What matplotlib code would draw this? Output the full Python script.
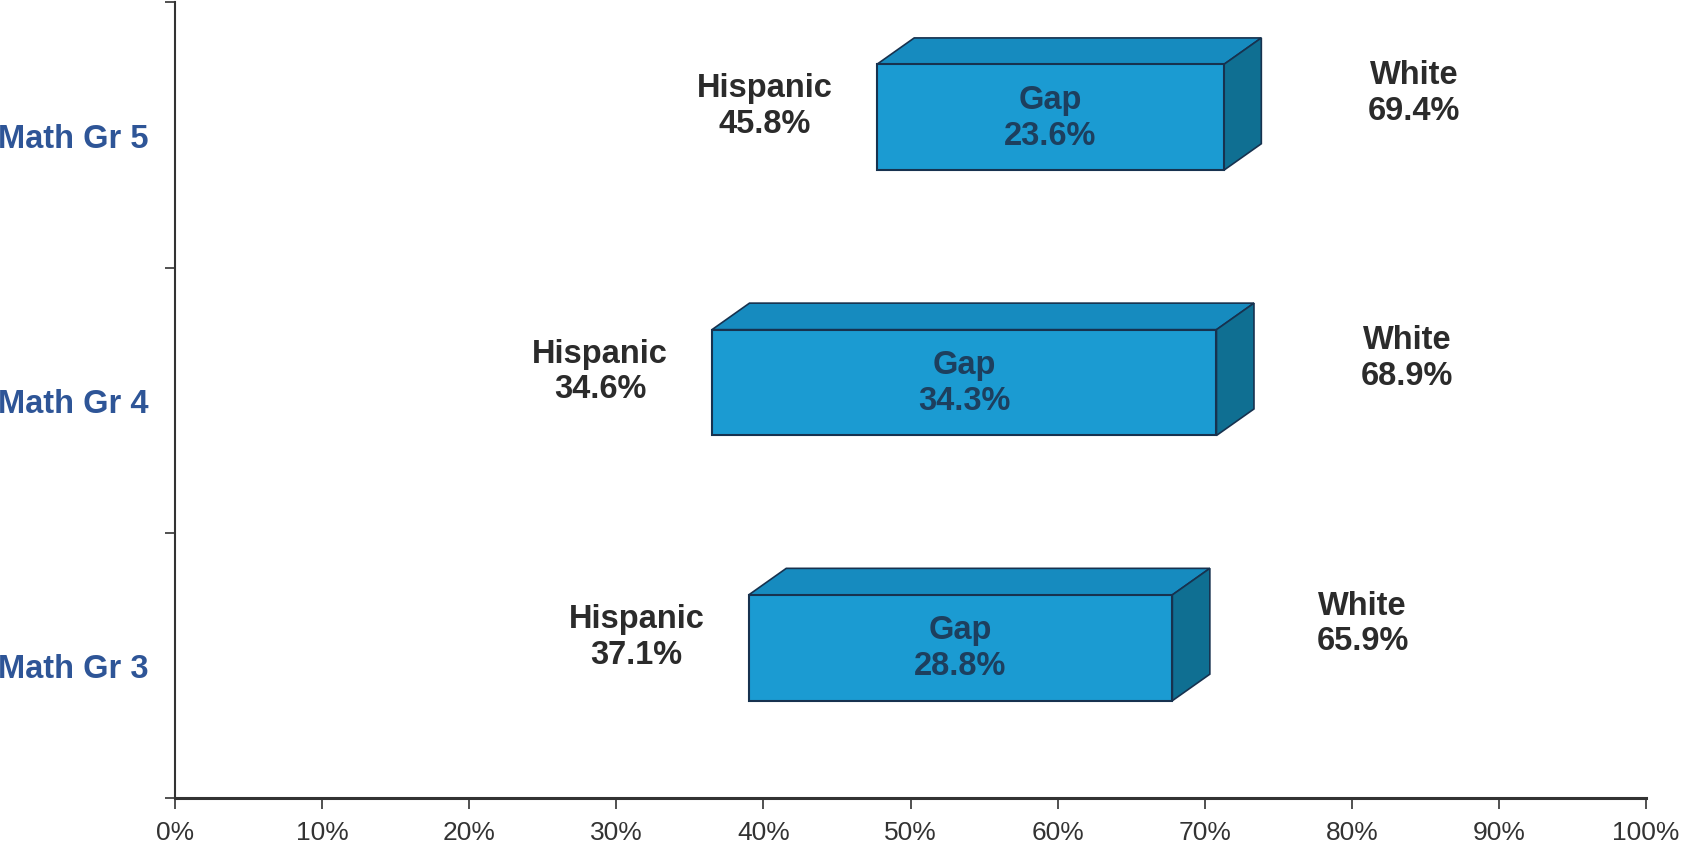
import matplotlib
matplotlib.use("Agg")
import matplotlib.pyplot as plt
from matplotlib.patches import Polygon
from matplotlib.ticker import FixedLocator, PercentFormatter

categories = ["Math Gr 3", "Math Gr 4", "Math Gr 5"]
hispanic = [37.1, 34.6, 45.8]
white = [65.9, 68.9, 69.4]
gap = [28.8, 34.3, 23.6]

FRONT = "#1b9bd2"
TOP = "#168bbf"
SIDE = "#0f6f92"
EDGE = "#17324f"
LABEL = "#2b2b2b"
CAT_BLUE = "#2e5597"

plt.rcParams["font.family"] = ["Liberation Sans", "DejaVu Sans"]

fig = plt.figure(figsize=(16.84, 8.45), dpi=100)
ax = fig.add_axes([0.104, 0.0544, 0.8734, 0.9416])

# 3d box geometry (data units)
shift = 1.9       # front face sits a bit right of the value in the original
dx, dy = 2.55, 0.10
h_lo, h_hi = 0.133, 0.266
fs = 23.5

for i, (h, w, g) in enumerate(zip(hispanic, white, gap)):
    x0, x1 = h + shift, w + shift
    y0, y1 = i - h_lo, i + h_hi
    ax.add_patch(Polygon([(x0, y1), (x0 + dx, y1 + dy), (x1 + dx, y1 + dy), (x1, y1)],
                         closed=True, fc=TOP, ec=EDGE, lw=1.2, zorder=2))
    ax.add_patch(Polygon([(x1, y0), (x1 + dx, y0 + dy), (x1 + dx, y1 + dy), (x1, y1)],
                         closed=True, fc=SIDE, ec=EDGE, lw=1.2, zorder=2))
    ax.add_patch(Polygon([(x0, y0), (x1, y0), (x1, y1), (x0, y1)],
                         closed=True, fc=FRONT, ec=EDGE, lw=1.5, zorder=3))
    ax.text((x0 + x1) / 2, (y0 + y1) / 2, f"Gap\n{g:.1f}%", ha="center", va="center",
            fontsize=fs, fontweight="bold", color="#1d3f5e", linespacing=1.2, zorder=4)
    ax.text(h - 1.1, i + 0.11, f"Hispanic\n{h:.1f}%", ha="right", va="center",
            multialignment="center", fontsize=fs, fontweight="bold", color=LABEL,
            linespacing=1.2)
    ax.text(w + 11.7, i + 0.16, f"White\n{w:.1f}%", ha="left", va="center",
            multialignment="center", fontsize=fs, fontweight="bold", color=LABEL,
            linespacing=1.2)

ax.set_xlim(0, 100)
ax.set_ylim(-0.5, 2.5)
ax.xaxis.set_major_locator(FixedLocator(range(0, 101, 10)))
ax.xaxis.set_major_formatter(PercentFormatter(decimals=0))
ax.set_yticks(range(len(categories)))
ax.set_yticklabels(categories, fontsize=fs, fontweight="bold", color=CAT_BLUE)
ax.yaxis.set_minor_locator(FixedLocator([-0.5, 0.5, 1.5, 2.5]))
ax.tick_params(axis="y", which="major", length=0, pad=19)
ax.tick_params(axis="y", which="minor", length=7, width=1.2, color="#333333")
ax.tick_params(axis="x", length=8, width=1.2, color="#333333", labelsize=19,
               labelcolor="#333333", pad=8)

for side in ("top", "right"):
    ax.spines[side].set_visible(False)
ax.spines["left"].set_color("#333333")
ax.spines["left"].set_linewidth(1.5)
ax.spines["bottom"].set_color("#333333")
ax.spines["bottom"].set_linewidth(2.2)

fig.savefig("out.png", dpi=100)
